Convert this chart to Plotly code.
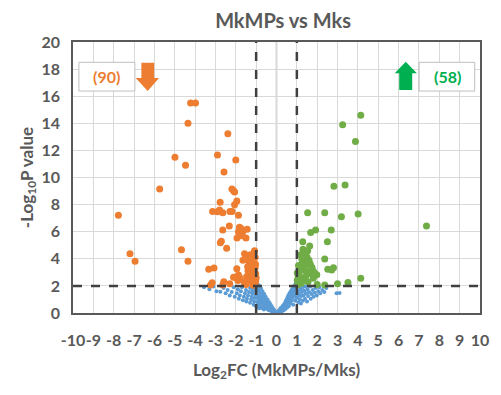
import plotly.graph_objects as go

# ---------------- data ----------------
down_x = [-4.22, -3.98, -4.35, -2.39, -4.99, -2.90, -4.47, -2.00, -2.58, -5.74,
          -2.19, -2.11, -2.06, -1.95, -2.77, -2.06, -7.77, -3.14, -2.90, -2.80,
          -2.64, -2.29, -2.18, -1.87, -2.32, -2.64, -1.82, -1.87, -1.74, -1.66,
          -1.79, -1.94, -1.50, -1.44, -2.76, -2.71, -2.45, -7.20, -6.95, -4.67,
          -4.35, -1.57, -1.39, -1.26, -1.15, -1.31, -1.42, -1.24, -1.12, -1.34,
          -1.47, -1.24, -1.95, -1.87, -2.03, -1.82, -1.08, -3.33, -3.07, -3.16,
          -3.24, -2.59, -2.64, -2.11, -1.05, -1.10, -1.20, -1.03, -1.18, -1.02,
          -1.10, -1.30, -1.05, -1.15, -1.60, -1.40, -1.05, -1.28, -1.00, -1.65,
          -1.90, -2.30, -1.50, -1.35, -1.08, -1.75, -1.70, -1.02, -1.22, -1.12]
down_y = [15.50, 15.50, 14.00, 13.23, 11.49, 11.66, 10.90, 11.29, 10.40, 9.15,
          9.15, 9.03, 8.93, 8.27, 8.17, 7.99, 7.21, 7.50, 7.48, 7.60,
          7.40, 7.50, 7.50, 7.21, 6.42, 6.13, 6.32, 6.00, 6.13, 6.00,
          5.88, 5.53, 5.53, 6.18, 5.19, 5.29, 4.77, 4.38, 3.81, 4.67,
          3.81, 4.38, 4.20, 4.03, 3.86, 3.67, 3.42, 3.30, 3.17, 2.93,
          2.68, 2.68, 3.27, 2.80, 2.63, 2.63, 3.05, 3.22, 3.32, 2.24,
          2.07, 2.31, 2.07, 2.63, 4.10, 4.45, 3.95, 3.60, 3.45, 2.90,
          2.50, 2.35, 2.20, 2.05, 2.30, 3.10, 3.35, 4.30, 2.60, 3.90,
          2.40, 2.15, 2.10, 3.80, 4.60, 6.25, 5.70, 2.40, 2.90, 3.70]

up_x = [4.14, 3.25, 3.88, 2.82, 3.37, 1.53, 2.37, 3.19, 4.01, 7.37,
        1.68, 1.92, 2.69, 1.29, 2.50, 1.53, 1.45, 1.18, 1.50, 1.34,
        1.26, 1.15, 1.39, 1.66, 1.74, 1.61, 1.77, 1.98, 1.81, 1.34,
        1.07, 1.02, 2.37, 2.52, 2.71, 2.80, 4.14, 3.51, 3.00, 2.37,
        1.05, 1.12, 1.22, 1.45, 1.60, 1.08, 1.30, 1.40, 1.55, 1.02,
        1.20, 1.70, 1.10, 1.85, 1.50, 1.25, 2.00, 1.63]
up_y = [14.59, 13.90, 12.65, 9.35, 9.45, 7.40, 7.40, 7.11, 7.31, 6.42,
        5.95, 6.13, 6.13, 5.26, 5.26, 4.60, 4.41, 4.30, 4.11, 3.91,
        3.62, 3.27, 3.17, 3.62, 3.37, 3.05, 3.17, 2.83, 2.56, 2.44,
        2.73, 2.44, 3.99, 3.22, 3.17, 3.34, 2.56, 2.26, 2.16, 2.07,
        2.10, 3.00, 2.20, 2.75, 3.90, 3.50, 4.70, 3.45, 2.30, 2.95,
        2.60, 2.90, 2.25, 3.00, 3.60, 3.95, 2.10, 4.95]

ns_x = [-3.56, -3.30, -3.10, -2.95, -2.76, -2.60, -2.50, -2.40, -2.30, -2.20,
        -2.10, -2.05, -1.95, -1.90, -1.85, -1.80, -1.75, -1.70, -1.65, -1.60,
        -1.55, -1.50, -1.48, -1.45, -1.40, -1.35, -1.30, -1.30, -1.25, -1.22,
        -1.20, -1.18, -1.15, -1.12, -1.10, -1.08, -1.05, -1.03, -1.02, -1.00,
        -0.98, -0.97, -0.96, -0.95, -0.94, -0.93, -0.92, -0.90, -0.88, -0.87,
        -0.86, -0.85, -0.84, -0.82, -0.80, -0.79, -0.78, -0.76, -0.75, -0.73,
        -0.72, -0.70, -0.69, -0.67, -0.65, -0.64, -0.62, -0.60, -0.58, -0.56,
        -0.55, -0.53, -0.50, -0.48, -0.46, -0.44, -0.42, -0.40, -0.38, -0.36,
        -0.34, -0.32, -0.30, -0.28, -0.26, -0.24, -0.22, -0.20, -0.18, -0.16,
        -0.14, -0.12, -0.10, -0.08, -0.06, -0.04, -0.02,
        0.00, 0.02, 0.04, 0.06, 0.08, 0.10, 0.12, 0.14, 0.16, 0.18,
        0.20, 0.22, 0.24, 0.26, 0.28, 0.30, 0.32, 0.34, 0.36, 0.38,
        0.40, 0.42, 0.44, 0.46, 0.48, 0.50, 0.52, 0.54, 0.56, 0.58,
        0.60, 0.62, 0.64, 0.66, 0.68, 0.70, 0.72, 0.74, 0.76, 0.78,
        0.80, 0.82, 0.84, 0.86, 0.88, 0.90, 0.92, 0.93, 0.95, 0.96,
        0.98, 0.99,
        1.02, 1.05, 1.05, 1.08, 1.10, 1.12, 1.15, 1.18, 1.20, 1.22,
        1.25, 1.28, 1.30, 1.33, 1.36, 1.40, 1.42, 1.45, 1.50, 1.52,
        1.55, 1.60, 1.65, 1.68, 1.72, 1.78, 1.82, 1.88, 1.92, 1.98,
        2.05, 2.10, 2.15, 2.25, 2.35, 2.45, 2.95, 3.10]
ns_y = [1.90, 1.75, 1.95, 1.60, 1.57, 1.85, 1.45, 1.70, 1.30, 1.55,
        1.90, 1.20, 1.45, 1.75, 1.05, 1.30, 1.60, 1.90, 0.95, 1.20,
        1.45, 1.70, 0.85, 1.05, 1.30, 1.55, 1.85, 0.75, 1.00, 1.20,
        1.45, 1.65, 1.90, 0.60, 0.85, 1.10, 1.35, 1.60, 1.80, 0.50,
        2.30, 1.90, 1.50, 1.10, 0.80, 0.50, 2.10, 1.70, 1.30, 0.95,
        0.60, 0.35, 2.00, 1.55, 1.15, 0.80, 0.45, 1.80, 1.40, 1.00,
        0.70, 0.35, 1.60, 1.20, 0.85, 0.50, 0.25, 1.40, 1.05, 0.70,
        0.40, 1.20, 0.90, 0.60, 0.30, 1.00, 0.75, 0.45, 0.20, 0.80,
        0.55, 0.30, 0.65, 0.40, 0.15, 0.50, 0.30, 0.10, 0.35, 0.20,
        0.08, 0.22, 0.12, 0.05, 0.10, 0.03, 0.05,
        0.02, 0.05, 0.03, 0.10, 0.06, 0.15, 0.08, 0.22, 0.12, 0.30,
        0.18, 0.38, 0.25, 0.12, 0.45, 0.30, 0.55, 0.38, 0.20, 0.65,
        0.45, 0.75, 0.30, 0.90, 0.60, 1.00, 0.40, 1.15, 0.75, 1.30,
        0.50, 0.95, 1.45, 1.15, 0.70, 1.60, 1.30, 0.90, 1.75, 1.50,
        1.10, 0.60, 1.90, 1.65, 1.30, 2.05, 0.90, 1.80, 2.20, 1.45,
        2.40, 1.10,
        1.90, 1.60, 1.20, 0.80, 2.00, 1.40, 1.00, 1.75, 0.70, 1.25,
        1.55, 1.90, 0.90, 1.30, 1.65, 1.05, 1.95, 1.45, 0.85, 1.75,
        1.25, 1.55, 1.95, 1.05, 1.40, 1.70, 1.20, 1.50, 1.85, 1.30,
        1.60, 1.90, 1.45, 1.70, 1.55, 1.85, 1.45, 1.48]

down_label = "(90)"
up_label = "(58)"
x_ticks = list(range(-10, 11))
y_ticks = list(range(0, 21, 2))

# ---------------- styles ----------------
ORANGE = "#ED7D31"
GREEN = "#70AD47"
BLUE = "#5B9BD5"
ARROW_GREEN = "#00B050"
TXT = "#595959"
FONT = "Lato"

fig = go.Figure()
fig.add_trace(go.Scatter(x=ns_x, y=ns_y, mode="markers",
                         marker=dict(color=BLUE, size=4), hoverinfo="skip"))
fig.add_trace(go.Scatter(x=down_x, y=down_y, mode="markers",
                         marker=dict(color=ORANGE, size=7)))
fig.add_trace(go.Scatter(x=up_x, y=up_y, mode="markers",
                         marker=dict(color=GREEN, size=7)))

shapes = []
# threshold lines
for xv in (-1, 1):
    shapes.append(dict(type="line", xref="x", yref="y", x0=xv, x1=xv, y0=0, y1=20,
                       line=dict(color="#404040", width=2.5, dash="dash"), layer="above"))
shapes.append(dict(type="line", xref="x", yref="y", x0=-10, x1=10, y0=2, y1=2,
                   line=dict(color="#404040", width=2.5, dash="dash"), layer="above"))
shapes.append(dict(type="line", xref="x", yref="y", x0=0, x1=0, y0=0, y1=20,
                   line=dict(color="#404040", width=1.2), layer="below"))
# label boxes
shapes.append(dict(type="rect", xref="x", yref="y", x0=-9.71, x1=-6.96, y0=16.38, y1=18.5,
                   line=dict(color="#BFBFBF", width=1), fillcolor="white"))
shapes.append(dict(type="rect", xref="x", yref="y", x0=7.01, x1=9.74, y0=16.38, y1=18.5,
                   line=dict(color="#BFBFBF", width=1), fillcolor="white"))
# down arrow (orange)
shapes.append(dict(type="path", xref="x", yref="y",
                   path="M -6.64 18.47 L -6.01 18.47 L -6.01 17.34 L -5.77 17.34 "
                        "L -6.33 16.38 L -6.92 17.34 L -6.64 17.34 Z",
                   fillcolor=ORANGE, line=dict(width=0)))
# up arrow (green)
shapes.append(dict(type="path", xref="x", yref="y",
                   path="M 6.03 16.46 L 6.67 16.46 L 6.67 17.69 L 6.90 17.69 "
                        "L 6.35 18.55 L 5.81 17.69 L 6.03 17.69 Z",
                   fillcolor=ARROW_GREEN, line=dict(width=0)))

annotations = [
    dict(x=-8.33, y=17.44, xref="x", yref="y", text="<b>" + down_label + "</b>",
         showarrow=False, font=dict(family=FONT, size=16, color=ORANGE)),
    dict(x=8.38, y=17.44, xref="x", yref="y", text="<b>" + up_label + "</b>",
         showarrow=False, font=dict(family=FONT, size=16, color=ARROW_GREEN)),
]

fig.update_layout(
    width=501, height=395,
    margin=dict(l=73, r=13, t=42, b=82),
    paper_bgcolor="white", plot_bgcolor="white",
    showlegend=False,
    title=dict(text="<b>MkMPs vs Mks</b>", x=0.565, xanchor="center", y=0.948, yanchor="middle",
               font=dict(family=FONT, size=20, color=TXT)),
    font=dict(family=FONT, color=TXT),
    shapes=shapes,
    annotations=annotations,
    xaxis=dict(range=[-10, 10], tickmode="array", tickvals=x_ticks,
               ticktext=["<b>%d</b>" % v for v in x_ticks], tickangle=0,
               showgrid=True, gridcolor="#D9D9D9", gridwidth=1,
               zeroline=False, showline=True, linecolor="#595959", linewidth=1.5, mirror=True,
               ticks="", tickfont=dict(family=FONT, size=16, color=TXT), ticklabelstandoff=12,
               title=dict(text="<b>Log<sub>2</sub>FC (MkMPs/Mks)</b>", standoff=16,
                          font=dict(family=FONT, size=17, color=TXT))),
    yaxis=dict(range=[0, 20], tickmode="array", tickvals=y_ticks,
               ticktext=["<b>%d</b>" % v for v in y_ticks],
               showgrid=True, gridcolor="#D9D9D9", gridwidth=1,
               zeroline=False, showline=True, linecolor="#595959", linewidth=1.5, mirror=True,
               ticks="", tickfont=dict(family=FONT, size=16, color=TXT), ticklabelstandoff=8,
               title=dict(text="<b>-Log<sub>10</sub>P value</b>", standoff=4,
                          font=dict(family=FONT, size=17, color=TXT))),
)

fig.write_html("out.html")
